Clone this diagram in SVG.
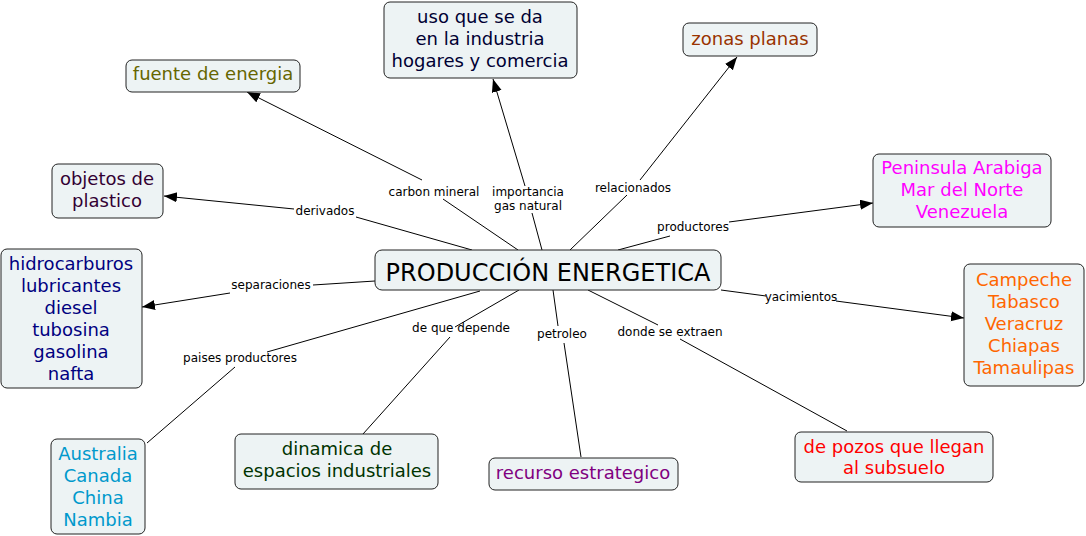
<svg xmlns="http://www.w3.org/2000/svg" width="1086" height="536" viewBox="0 0 1086 536">
<style>
.box{fill:#edf3f4;stroke:#222;stroke-width:1}
.nt{font-family:"DejaVu Sans","Liberation Sans",sans-serif;font-size:18px;text-anchor:middle}
.lt{font-family:"DejaVu Sans","Liberation Sans",sans-serif;font-size:12px;text-anchor:middle;fill:#000}
.ln{stroke:#000;stroke-width:1;fill:none}
.ar{marker-end:url(#arr)}
</style>
<defs>
<marker id="arr" markerUnits="userSpaceOnUse" markerWidth="14" markerHeight="12" refX="13" refY="5" orient="auto">
<path d="M0,0 L13,5 L0,10 Z" fill="#000"/>
</marker>
</defs>
<rect width="1086" height="536" fill="#fff"/>
<g id="connectors">
<line class="ln" x1="518" y1="250" x2="443" y2="199"/>
<line class="ln ar" x1="422" y1="180" x2="247" y2="92"/>
<line class="ln" x1="542" y1="250" x2="532" y2="213"/>
<line class="ln ar" x1="525" y1="186" x2="493" y2="79"/>
<line class="ln" x1="570" y1="250" x2="627" y2="195"/>
<line class="ln ar" x1="640" y1="180" x2="737" y2="57"/>
<line class="ln" x1="618" y1="250" x2="670" y2="236"/>
<line class="ln ar" x1="729" y1="222" x2="873" y2="203"/>
<line class="ln" x1="472" y1="250" x2="356" y2="217"/>
<line class="ln ar" x1="294" y1="209" x2="164" y2="196"/>
<line class="ln" x1="375" y1="281" x2="313" y2="285"/>
<line class="ln ar" x1="230" y1="293" x2="142" y2="307"/>
<line class="ln" x1="480" y1="291" x2="267" y2="352"/>
<line class="ln" x1="235" y1="367" x2="147" y2="443"/>
<line class="ln" x1="519" y1="290" x2="455" y2="327"/>
<line class="ln" x1="450" y1="337" x2="363" y2="434"/>
<line class="ln" x1="553" y1="290" x2="558" y2="326"/>
<line class="ln" x1="564" y1="343" x2="581" y2="457"/>
<line class="ln" x1="588" y1="290" x2="658" y2="325"/>
<line class="ln" x1="680" y1="339" x2="847" y2="431"/>
<line class="ln" x1="721" y1="290" x2="766" y2="296"/>
<line class="ln ar" x1="836" y1="301" x2="964" y2="318"/>
</g>
<g id="link-labels">
<text class="lt" x="434" y="196">carbon mineral</text>
<text class="lt" x="528" y="196">importancia</text>
<text class="lt" x="528" y="210">gas natural</text>
<text class="lt" x="633" y="192">relacionados</text>
<text class="lt" x="693" y="231">productores</text>
<text class="lt" x="325" y="215">derivados</text>
<text class="lt" x="271" y="289">separaciones</text>
<text class="lt" x="240" y="362">paises productores</text>
<text class="lt" x="461" y="332">de que depende</text>
<text class="lt" x="562" y="338">petroleo</text>
<text class="lt" x="670" y="336">donde se extraen</text>
<text class="lt" x="801" y="301">yacimientos</text>
</g>
<g id="n-center">
<rect class="box" x="375" y="250" width="346" height="40" rx="7"/>
<text class="nt" x="548" y="281" style="font-size:24px" fill="#000">PRODUCCIÓN ENERGETICA</text>
</g>
<g id="n-fuente">
<rect class="box" x="126" y="60" width="174" height="32" rx="6"/>
<text class="nt" x="213" y="80" fill="#666600">fuente de energia</text>
</g>
<g id="n-uso">
<rect class="box" x="384" y="2" width="193" height="76" rx="6"/>
<text class="nt" x="480" y="23" fill="#000033">uso que se da</text>
<text class="nt" x="480" y="45" fill="#000033">en la industria</text>
<text class="nt" x="480" y="67" fill="#000033">hogares y comercia</text>
</g>
<g id="n-zonas">
<rect class="box" x="683" y="23" width="134" height="33" rx="6"/>
<text class="nt" x="750" y="45" fill="#993300">zonas planas</text>
</g>
<g id="n-objetos">
<rect class="box" x="52" y="164" width="111" height="54" rx="6"/>
<text class="nt" x="107" y="185" fill="#330033">objetos de</text>
<text class="nt" x="107" y="207" fill="#330033">plastico</text>
</g>
<g id="n-hidro">
<rect class="box" x="1" y="249" width="141" height="139" rx="6"/>
<text class="nt" x="71" y="270" fill="#000080">hidrocarburos</text>
<text class="nt" x="71" y="292" fill="#000080">lubricantes</text>
<text class="nt" x="71" y="314" fill="#000080">diesel</text>
<text class="nt" x="71" y="336" fill="#000080">tubosina</text>
<text class="nt" x="71" y="358" fill="#000080">gasolina</text>
<text class="nt" x="71" y="380" fill="#000080">nafta</text>
</g>
<g id="n-peninsula">
<rect class="box" x="873" y="154" width="178" height="73" rx="6"/>
<text class="nt" x="962" y="174" fill="#ff00ff">Peninsula Arabiga</text>
<text class="nt" x="962" y="196" fill="#ff00ff">Mar del Norte</text>
<text class="nt" x="962" y="218" fill="#ff00ff">Venezuela</text>
</g>
<g id="n-campeche">
<rect class="box" x="964" y="264" width="120" height="122" rx="6"/>
<text class="nt" x="1024" y="286" fill="#ff6600">Campeche</text>
<text class="nt" x="1024" y="308" fill="#ff6600">Tabasco</text>
<text class="nt" x="1024" y="330" fill="#ff6600">Veracruz</text>
<text class="nt" x="1024" y="352" fill="#ff6600">Chiapas</text>
<text class="nt" x="1024" y="374" fill="#ff6600">Tamaulipas</text>
</g>
<g id="n-australia">
<rect class="box" x="51" y="439" width="94" height="95" rx="6"/>
<text class="nt" x="98" y="460" fill="#0099cc">Australia</text>
<text class="nt" x="98" y="482" fill="#0099cc">Canada</text>
<text class="nt" x="98" y="504" fill="#0099cc">China</text>
<text class="nt" x="98" y="526" fill="#0099cc">Nambia</text>
</g>
<g id="n-dinamica">
<rect class="box" x="235" y="434" width="203" height="55" rx="6"/>
<text class="nt" x="337" y="455" fill="#003300">dinamica de</text>
<text class="nt" x="337" y="477" fill="#003300">espacios industriales</text>
</g>
<g id="n-recurso">
<rect class="box" x="489" y="458" width="189" height="32" rx="6"/>
<text class="nt" x="583" y="479" fill="#800080">recurso estrategico</text>
</g>
<g id="n-pozos">
<rect class="box" x="795" y="432" width="198" height="50" rx="6"/>
<text class="nt" x="894" y="453" fill="#ff0000">de pozos que llegan</text>
<text class="nt" x="894" y="474" fill="#ff0000">al subsuelo</text>
</g>
</svg>
